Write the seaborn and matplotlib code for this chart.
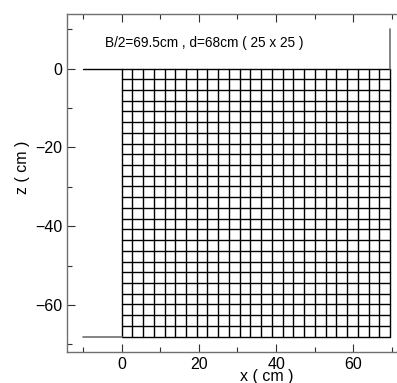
import numpy as np
import pandas as pd

import matplotlib
matplotlib.use("Agg")
import matplotlib.pyplot as plt
import seaborn as sns
from matplotlib.ticker import MultipleLocator

# %% mesh parameters
half_width = 69.5   # B/2 (cm)
depth = 68.0        # d (cm)
n_x = 25
n_z = 25

x_ticks = [0, 20, 40, 60]
z_ticks = [0, -20, -40, -60]
label_text = "B/2=69.5cm , d=68cm ( 25 x 25 )"

# surface and boundary lines (x pairs, z pairs)
surface_x = [-10, 0]
surface_z = [0, 0]
base_x = [-10, 0]
base_z = [-depth, -depth]
edge_x = [half_width, half_width]
edge_z = [0, 10]

# %% build grid lines as segments
xs = np.linspace(0, half_width, n_x + 1)
zs = np.linspace(0, -depth, n_z + 1)
rows = []
k = 0
for x in xs:
    rows += [(k, x, 0.0), (k, x, -depth)]
    k += 1
for z in zs:
    rows += [(k, 0.0, z), (k, half_width, z)]
    k += 1
mesh = pd.DataFrame(rows, columns=["line", "x", "z"])

# %%
sns.set_style("ticks")
plt.rcParams["font.family"] = ["Liberation Sans", "DejaVu Sans"]
plt.rcParams["text.color"] = "black"
plt.rcParams["axes.labelcolor"] = "black"

fig = plt.figure(figsize=(3.97, 3.83), dpi=100)
ax = fig.add_axes([0.170, 0.080, 0.830, 0.883])

sns.lineplot(data=mesh, x="x", y="z", units="line", estimator=None,
             sort=False, color="black", lw=1.0, ax=ax, legend=False)
ax.plot(surface_x, surface_z, color="black", lw=1.0)
ax.plot(base_x, base_z, color="#707070", lw=1.2)
ax.plot(edge_x, edge_z, color="#707070", lw=1.2)

ax.text(-4.3, 5.4, label_text, fontsize=9.8, va="baseline", ha="left",
        color="black")

ax.set_xlim(-14, 71.3)
ax.set_ylim(-72, 13.8)
ax.set_xticks(x_ticks)
ax.set_yticks(z_ticks)
ax.set_xticklabels(["0", "20", "40", "60"])
ax.set_yticklabels(["0", "\u221220", "\u221240", "\u221260"])
ax.xaxis.set_minor_locator(MultipleLocator(10))
ax.yaxis.set_minor_locator(MultipleLocator(10))
ax.tick_params(which="both", direction="in", top=True, right=False,
               labelsize=11.5, color="#303030", labelcolor="black", width=0.8)
ax.tick_params(which="major", length=6)
ax.tick_params(which="minor", length=3.5)

ax.set_xlabel("x ( cm )", fontsize=11.5, color="black")
ax.set_ylabel("z ( cm )", fontsize=11.5, color="black")
ax.xaxis.set_label_coords(0.605, -0.05)
ax.yaxis.set_label_coords(-0.115, 0.548)

for side in ["left", "bottom", "top"]:
    ax.spines[side].set_color("#707070")
    ax.spines[side].set_linewidth(1.0)
ax.spines["right"].set_visible(False)

fig.savefig("out.png", dpi=100)
